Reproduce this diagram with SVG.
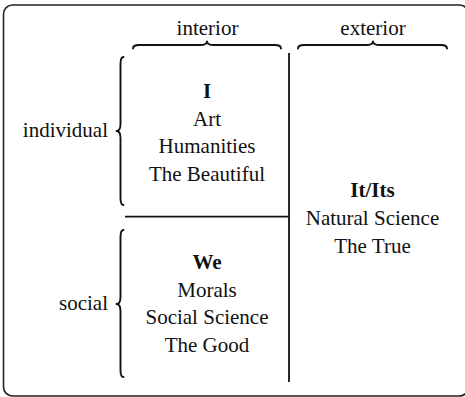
<svg xmlns="http://www.w3.org/2000/svg" width="465" height="397" viewBox="0 0 465 397">
<style>
.t{font-size:21px;fill:#111;text-anchor:middle}
.b{font-weight:bold}
.l{text-anchor:end}
.brace{fill:none;stroke:#111;stroke-width:1.9;stroke-linecap:round;stroke-linejoin:round}
.rule{stroke:#111;stroke-width:1.8;fill:none}
</style>
<rect x="3.5" y="5" width="465" height="391" rx="9" fill="#fff" stroke="#222" stroke-width="1.6"/>
<g font-family="Liberation Serif">
<g id="header-interior">
<text class="t" x="207.5" y="35">interior</text>
<path class="brace" d="M133,48.5 Q133,45 139,45 L200,45 Q207,45 207,41.5 Q207,45 214,45 L275,45 Q281,45 281,48.5"/>
</g>
<g id="header-exterior">
<text class="t" x="373" y="35">exterior</text>
<path class="brace" d="M298,48.5 Q298,45 304,45 L366,45 Q373,45 373,41.5 Q373,45 380,45 L441,45 Q447,45 447,48.5"/>
</g>
<g id="label-individual">
<text class="t l" x="108" y="137">individual</text>
<path class="brace" d="M123.5,57 Q120.5,57 120.5,64 L120.5,124 Q120.5,131 116.5,131 Q120.5,131 120.5,138 L120.5,198 Q120.5,205 123.5,205"/>
</g>
<g id="label-social">
<text class="t l" x="108" y="310">social</text>
<path class="brace" d="M123.5,230 Q120.5,230 120.5,237 L120.5,297 Q120.5,304 116.5,304 Q120.5,304 120.5,311 L120.5,370 Q120.5,377 123.5,377"/>
</g>
<g id="connectors">
<line class="rule" x1="289" y1="53" x2="289" y2="382"/>
<line class="rule" x1="125" y1="216.7" x2="289" y2="216.7"/>
</g>
<g id="quadrant-I">
<text class="t b" x="207" y="98">I</text>
<text class="t" x="207" y="125.5">Art</text>
<text class="t" x="207" y="153">Humanities</text>
<text class="t" x="207" y="180.5">The Beautiful</text>
</g>
<g id="quadrant-We">
<text class="t b" x="207" y="268.5">We</text>
<text class="t" x="207" y="296.5">Morals</text>
<text class="t" x="207" y="324">Social Science</text>
<text class="t" x="207" y="351.5">The Good</text>
</g>
<g id="quadrant-ItIts">
<text class="t b" x="372.5" y="197">It/Its</text>
<text class="t" x="372.5" y="225">Natural Science</text>
<text class="t" x="372.5" y="252.5">The True</text>
</g>
</g>
</svg>
